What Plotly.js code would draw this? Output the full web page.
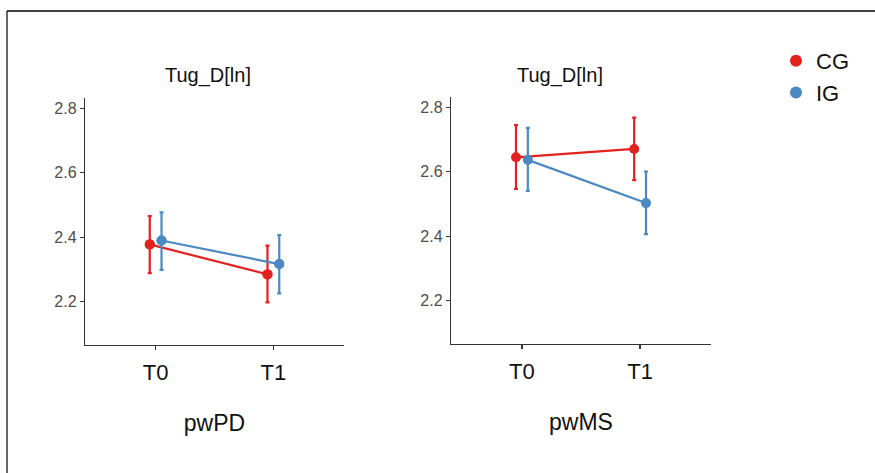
<!DOCTYPE html>
<html>
<head>
<meta charset="utf-8">
<script src="https://cdn.plot.ly/plotly-3.0.1.min.js"></script>
<style>html,body{margin:0;padding:0;background:#fff;}#chart{width:875px;height:473px;}</style>
</head>
<body>
<div id="chart"></div>
<script>
// ---- data ----
const timepoints = ['T0', 'T1'];
const groups = ['CG', 'IG'];
const panels = ['pwPD', 'pwMS'];
const panelTitle = 'Tug_D[ln]';

// pwPD
const pwPD_CG_mean  = [2.378, 2.285];
const pwPD_CG_lower = [2.289, 2.198];
const pwPD_CG_upper = [2.466, 2.374];
const pwPD_IG_mean  = [2.390, 2.317];
const pwPD_IG_lower = [2.299, 2.226];
const pwPD_IG_upper = [2.477, 2.407];

// pwMS
const pwMS_CG_mean  = [2.645, 2.671];
const pwMS_CG_lower = [2.547, 2.574];
const pwMS_CG_upper = [2.745, 2.768];
const pwMS_IG_mean  = [2.637, 2.503];
const pwMS_IG_lower = [2.541, 2.407];
const pwMS_IG_upper = [2.736, 2.601];

const yTicks = [2.2, 2.4, 2.6, 2.8];

// ---- styling ----
const colors = {CG: '#E3211F', IG: '#4A89C1'};
const dodge = {CG: -0.05, IG: 0.05};
const font = 'Liberation Sans, Arial, sans-serif';

const series = {
  pwPD: {
    CG: {mean: pwPD_CG_mean, lower: pwPD_CG_lower, upper: pwPD_CG_upper},
    IG: {mean: pwPD_IG_mean, lower: pwPD_IG_lower, upper: pwPD_IG_upper}
  },
  pwMS: {
    CG: {mean: pwMS_CG_mean, lower: pwMS_CG_lower, upper: pwMS_CG_upper},
    IG: {mean: pwMS_IG_mean, lower: pwMS_IG_lower, upper: pwMS_IG_upper}
  }
};

const traces = [];
panels.forEach((p, pi) => {
  const ax = pi === 0 ? '' : '2';
  groups.forEach(g => {
    const s = series[p][g];
    const x = timepoints.map((t, i) => i + dodge[g]);
    traces.push({
      type: 'scatter', mode: 'lines+markers',
      x: x, y: s.mean,
      xaxis: 'x' + ax, yaxis: 'y' + ax,
      name: g, showlegend: false,
      line: {color: colors[g], width: 2.2},
      marker: {color: colors[g], size: 10},
      error_y: {
        type: 'data', symmetric: false,
        array: s.upper.map((u, i) => u - s.mean[i]),
        arrayminus: s.mean.map((m, i) => m - s.lower[i]),
        color: colors[g], thickness: 2.2, width: 2
      },
      hoverinfo: 'skip'
    });
  });
});
// legend entries (markers only, duplicate of first panel's points)
groups.forEach(g => {
  const s = series.pwPD[g];
  traces.push({
    type: 'scatter', mode: 'markers',
    x: timepoints.map((t, i) => i + dodge[g]), y: s.mean,
    xaxis: 'x', yaxis: 'y',
    name: g, showlegend: true,
    marker: {color: colors[g], size: 10},
    hoverinfo: 'skip'
  });
});

const W = 875, H = 473;
function xaxisDef(l, r, title, anchor) {
  return {
    domain: [l / W, r / W], anchor: anchor,
    range: [-0.6, 1.6],
    tickmode: 'array', tickvals: timepoints.map((t, i) => i), ticktext: timepoints,
    showline: true, linecolor: '#333333', linewidth: 1.2,
    ticks: 'outside', ticklen: 4, tickcolor: '#333333', tickwidth: 1.2,
    ticklabelstandoff: 3,
    showgrid: false, zeroline: false,
    tickfont: {family: font, size: 22, color: '#111111'},
    title: {text: title, font: {family: font, size: 23, color: '#111111'}, standoff: 31}
  };
}
function yaxisDef(top, bottom, anchor) {
  return {
    domain: [(H - bottom) / H, (H - top) / H], anchor: anchor,
    range: [2.066, 2.832],
    tickmode: 'array', tickvals: yTicks, ticktext: yTicks.map(v => v.toFixed(1)),
    showline: true, linecolor: '#333333', linewidth: 1.2,
    ticks: 'outside', ticklen: 4, tickcolor: '#333333', tickwidth: 1.2,
    showgrid: false, zeroline: false,
    tickfont: {family: font, size: 16, color: '#4D4D4D'}
  };
}

const layout = {
  width: W, height: H,
  margin: {l: 0, r: 0, t: 0, b: 0},
  paper_bgcolor: '#ffffff', plot_bgcolor: '#ffffff',
  showlegend: true,
  legend: {
    x: 776 / W, y: (H - 40) / H, xanchor: 'left', yanchor: 'top',
    font: {family: font, size: 22, color: '#111111'},
    tracegroupgap: 0, itemsizing: 'constant',
    bgcolor: 'rgba(0,0,0,0)'
  },
  xaxis: xaxisDef(85, 344, panels[0], 'y'),
  yaxis: yaxisDef(98, 345, 'x'),
  xaxis2: xaxisDef(451, 711, panels[1], 'y2'),
  yaxis2: yaxisDef(97, 344, 'x2'),
  annotations: [
    {xref: 'paper', yref: 'paper', x: 208 / W, y: (H - 75) / H, text: panelTitle, showarrow: false,
     xanchor: 'center', yanchor: 'middle', font: {family: font, size: 20, color: '#111111'}},
    {xref: 'paper', yref: 'paper', x: 560 / W, y: (H - 75) / H, text: panelTitle, showarrow: false,
     xanchor: 'center', yanchor: 'middle', font: {family: font, size: 20, color: '#111111'}}
  ],
  shapes: [
    {type: 'line', xref: 'paper', yref: 'paper', x0: 7 / W, x1: 1, y0: (H - 11) / H, y1: (H - 11) / H,
     line: {color: '#000000', width: 1.5}},
    {type: 'line', xref: 'paper', yref: 'paper', x0: 7 / W, x1: 7 / W, y0: 0, y1: (H - 11) / H,
     line: {color: '#000000', width: 1.2}}
  ]
};

Plotly.newPlot('chart', traces, layout, {displayModeBar: false, staticPlot: true});
</script>
</body>
</html>
